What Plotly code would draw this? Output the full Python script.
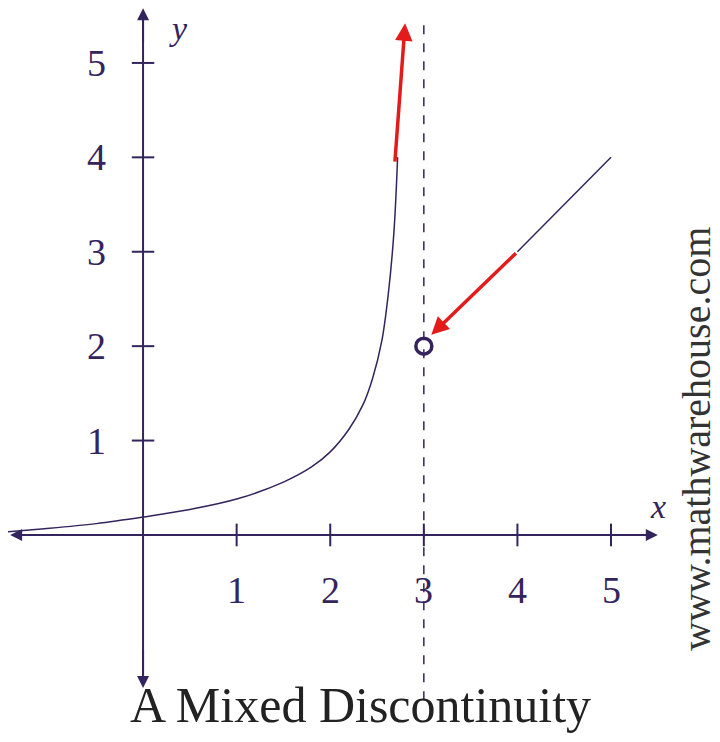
import plotly.graph_objects as go

# values
curve_x = [-1.5, -1.0, -0.5, 0.0, 0.5, 1.0, 1.5, 1.8, 2.0, 2.2, 2.35, 2.45, 2.55, 2.62, 2.68, 2.72]
curve_y = [0.03, 0.07, 0.12, 0.19, 0.27, 0.38, 0.56, 0.72, 0.88, 1.12, 1.38, 1.65, 2.05, 2.55, 3.2, 4.0]
line_x = [4.0, 5.0]
line_y = [3.0, 4.0]
hole = (3, 2)
tick_vals = [1, 2, 3, 4, 5]
title = "A Mixed Discontinuity"
watermark = "www.mathwarehouse.com"

purple = "#34245e"
red = "#e31b1b"
serif = "Liberation Serif, DejaVu Serif, serif"

fig = go.Figure()
fig.add_trace(go.Scatter(x=curve_x, y=curve_y, mode="lines",
                         line=dict(color=purple, width=1.5, shape="spline", smoothing=1),
                         hoverinfo="skip"))
fig.add_trace(go.Scatter(x=line_x, y=line_y, mode="lines",
                         line=dict(color=purple, width=1.5), hoverinfo="skip"))
fig.add_trace(go.Scatter(x=[hole[0]], y=[hole[1]], mode="markers",
                         marker=dict(size=16, color="white", line=dict(color=purple, width=3.5)),
                         hoverinfo="skip"))

shapes = [
    # dashed asymptote
    dict(type="line", x0=3, x1=3, y0=-1.75, y1=5.4, line=dict(color=purple, width=1.5, dash="dash")),
    # axes
    dict(type="line", x0=-1.35, x1=5.4, y0=0, y1=0, line=dict(color=purple, width=2)),
    dict(type="line", x0=0, x1=0, y0=-1.5, y1=5.5, line=dict(color=purple, width=2)),
]
for t in tick_vals:
    shapes.append(dict(type="line", x0=t, x1=t, y0=-0.12, y1=0.12, line=dict(color=purple, width=2)))
    shapes.append(dict(type="line", x0=-0.12, x1=0.12, y0=t, y1=t, line=dict(color=purple, width=2)))

ann = []
def arrow(x, y, ax, ay, color, width=2, head=2, size=1.2):
    ann.append(dict(x=x, y=y, ax=ax, ay=ay, xref="x", yref="y", axref="x", ayref="y",
                    text="", showarrow=True, arrowhead=head, arrowsize=size,
                    arrowwidth=width, arrowcolor=color))

arrow(5.5, 0, 5.0, 0, purple)
arrow(-1.42, 0, -1.0, 0, purple)
arrow(0, 5.58, 0, 5.2, purple)
arrow(0, -1.62, 0, -1.2, purple)
arrow(2.8, 5.42, 2.69, 3.94, red, width=3.5, size=1)
arrow(3.08, 2.12, 4.0, 3.0, red, width=3.5, size=1)

for t in tick_vals:
    ann.append(dict(x=t, y=-0.58, text=str(t), showarrow=False,
                    font=dict(family=serif, size=38, color=purple)))
    ann.append(dict(x=-0.5, y=t, text=str(t), showarrow=False,
                    font=dict(family=serif, size=38, color=purple)))
ann.append(dict(x=5.5, y=0.3, text="<i>x</i>", showarrow=False,
                font=dict(family=serif, size=34, color=purple)))
ann.append(dict(x=0.38, y=5.36, text="<i>y</i>", showarrow=False,
                font=dict(family=serif, size=34, color=purple)))
ann.append(dict(x=0.49, y=0.02, xref="paper", yref="paper", yanchor="bottom", text=title,
                showarrow=False, font=dict(family=serif, size=50, color="#222222")))
ann.append(dict(x=0.99, y=0.42, xref="paper", yref="paper", text=watermark, showarrow=False,
                textangle=-90, font=dict(family=serif, size=40, color="#333333")))

fig.update_layout(
    width=720, height=742, margin=dict(l=0, r=0, t=0, b=0),
    paper_bgcolor="white", plot_bgcolor="white", showlegend=False,
    xaxis=dict(range=[-1.443, 6.25], visible=False, fixedrange=True),
    yaxis=dict(range=[-2.278, 5.582], visible=False, fixedrange=True),
    shapes=shapes, annotations=ann,
)
fig.write_html("out.html")
